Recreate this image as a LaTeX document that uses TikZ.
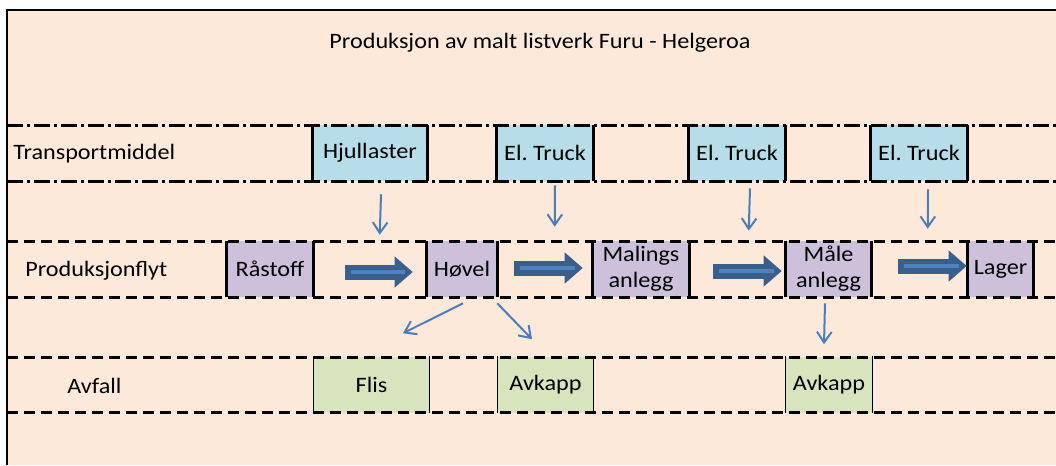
\documentclass[tikz,border=0pt]{standalone}
\usepackage{fontspec}
\setmainfont{Carlito}[FakeStretch=1.1]
\usetikzlibrary{arrows.meta,calc}
\frenchspacing

\definecolor{sheet}{RGB}{253,233,217}
\definecolor{transportblue}{RGB}{183,222,232}
\definecolor{flowlilac}{RGB}{204,192,218}
\definecolor{wastegreen}{RGB}{215,228,189}
\definecolor{linkblue}{RGB}{74,126,187}
\definecolor{arrowdark}{RGB}{58,95,140}
\definecolor{arrowlight}{RGB}{79,129,189}

\tikzset{
  lbl/.style={anchor=west, inner sep=0pt},
  cell/.style={inner sep=0pt, minimum height=42pt, align=center},
  rowdash/.style={line width=2.25pt, dash pattern=on 8.5pt off 4.25pt},
  rowdashdot/.style={line width=2.25pt, dash pattern=on 12pt off 3pt on 2.25pt off 3pt},
  edge/.style={line width=2.5pt},
  thinedge/.style={line width=1.1pt},
  feed/.style={linkblue, line width=1.5pt, -{Straight Barb[length=8pt,width=11pt]}},
  flow/.style 2 args={arrowdark, line width=11.25pt, shorten <=#1, shorten >=#2,
    -{Triangle[length=13.5pt,width=22.5pt]},
    postaction={draw=arrowlight, line width=3.5pt, -, shorten <=#1+4.5pt, shorten >=#2+6pt}}
}

\begin{document}
\begin{tikzpicture}[x=0.75pt, y=-0.75pt, every node/.style={font=\fontsize{16.5}{19.5}\selectfont}]
  \useasboundingbox (0,0) rectangle (1056,465);
  \fill[sheet] (7,10) rectangle (1056,465);
  \draw[line width=1.9pt] (7,465) -- (7,10) -- (1056,10);

  % title and row labels
  \node (title) at (540,43) {Produksjon av malt listverk Furu - Helgeroa};
  \node[lbl] (transport) at (13,154) {Transportmiddel};
  \node[lbl] (produksjon) at (25,271) {Produksjonflyt};
  \node[lbl] (avfall) at (67,386) {Avfall};

  % transport
  \node[cell, fill=transportblue, minimum width=85.5pt] (hjul) at (370,153) {Hjullaster};
  \node[cell, fill=transportblue, minimum width=72pt] (truckA) at (545,153) {El. Truck};
  \node[cell, fill=transportblue, minimum width=72pt] (truckB) at (737,153) {El. Truck};
  \node[cell, fill=transportblue, minimum width=72pt] (truckC) at (919,153) {El. Truck};

  % production flow
  \node[cell, fill=flowlilac, minimum width=64.5pt] (rastoff) at (270,269) {Råstoff};
  \node[cell, fill=flowlilac, minimum width=52.5pt] (hovel) at (462,269) {Høvel};
  \node[cell, fill=flowlilac, minimum width=72pt] (maling) at (641,269) {Malings\\anlegg};
  \node[cell, fill=flowlilac, minimum width=63.75pt] (male) at (828.5,269) {Måle\\anlegg};
  \node[cell, fill=flowlilac, minimum width=48.75pt] (lager) at (1000.5,269) {Lager};

  % waste
  \node[cell, fill=wastegreen, minimum width=86.25pt] (flis) at (371.5,384.5) {Flis};
  \node[cell, fill=wastegreen, minimum width=71.25pt] (avkappA) at (545.5,384.5) {Avkapp};
  \node[cell, fill=wastegreen, minimum width=64.5pt] (avkappB) at (829,384.5) {Avkapp};

  % row lines
  \foreach \y in {125,181}
    \draw[rowdashdot] (7,\y) -- (1056,\y);
  \foreach \y in {241,297,357,412}
    \draw[rowdash] (7,\y) -- (1056,\y);

  \foreach \n in {hjul,truckA,truckB,truckC,rastoff,hovel,maling,male,lager}
    \draw[edge] (\n.north west) -- (\n.south west) (\n.north east) -- (\n.south east);
  \foreach \n in {flis,avkappA,avkappB}
    \draw[thinedge] (\n.north west) -- (\n.south west) (\n.north east) -- (\n.south east);

  % transport to flow
  \draw[feed] ($(hjul.south)+(11,13)$) -- ($(hovel.north west)+(-47,-6)$);
  \draw[feed] ($(truckA.south)+(10,4)$) -- ($(maling.north west)+(-38,-14)$);
  \draw[feed] ($(truckB.south)+(13,7)$) -- ($(male.north west)+(-37,-10)$);
  \draw[feed] ($(truckC.south)+(9,8)$) -- ($(lager.north west)+(-40,-12)$);

  % waste out
  \draw[feed] ($(hovel.south)+(1,6)$) -- ($(flis.north)+(31.5,-23)$);
  \draw[feed] ($(hovel.south east)+(0,6)$) -- ($(avkappA.north)+(-13.5,-17)$);
  \draw[feed] ($(male.south)+(-3.5,6)$) -- ($(avkappB.north)+(-5,-12)$);

  % main flow
  \draw[flow={24pt}{10.5pt}] ($(rastoff.east)+(0,3)$) -- ($(hovel.west)+(0,3)$);
  \draw[flow={12.75pt}{7.5pt}] ($(hovel.east)+(0,-1)$) -- ($(maling.west)+(0,-1)$);
  \draw[flow={18pt}{3pt}] ($(maling.east)+(0,2)$) -- ($(male.west)+(0,2)$);
  \draw[flow={20.25pt}{0.75pt}] ($(male.east)+(0,-3)$) -- ($(lager.west)+(0,-3)$);
\end{tikzpicture}
\end{document}
